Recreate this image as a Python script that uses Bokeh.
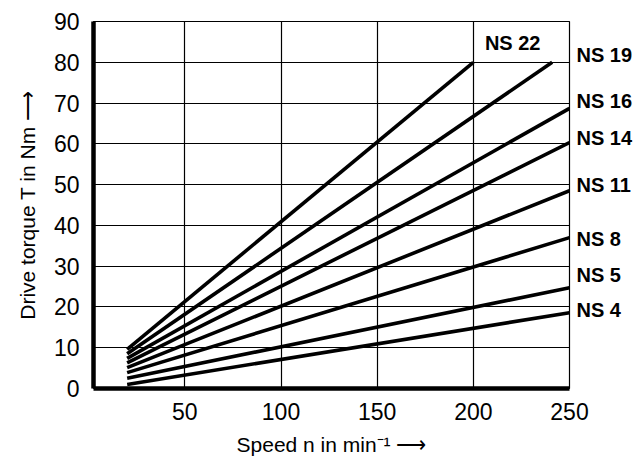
from bokeh.plotting import figure
from bokeh.models import Range1d, FixedTicker, Label, LinearAxis
from bokeh.embed import file_html
from bokeh.resources import INLINE

# Data
series = ["NS 22", "NS 19", "NS 16", "NS 14", "NS 11", "NS 8", "NS 5", "NS 4"]
n_start = [20, 20, 20, 20, 20, 20, 20, 20]
n_end = [200, 241, 250, 250, 250, 250, 250, 250]
T_start = [9.6, 8.5, 7.4, 6.3, 5.1, 3.9, 2.5, 1.0]
T_end = [80, 80, 68.7, 60.3, 48.5, 37.0, 24.7, 18.6]
label_x = [206, 254, 254, 254, 254, 254, 254, 254]
label_y = [84.7, 81.7, 70.4, 61.5, 50.0, 36.7, 27.9, 19.3]
x_ticks = [50, 100, 150, 200, 250]
y_ticks = [0, 10, 20, 30, 40, 50, 60, 70, 80, 90]

FONT = "Liberation Sans"

p = figure(frame_width=476, frame_height=367,
           x_range=Range1d(2.5, 250), y_range=Range1d(0, 90),
           output_backend="svg", toolbar_location=None,
           min_border_left=93, min_border_right=70,
           min_border_top=21, min_border_bottom=60)
p.background_fill_color = "white"
p.border_fill_color = "white"
p.outline_line_color = "black"
p.outline_line_width = 1.2

p.xaxis.ticker = FixedTicker(ticks=x_ticks)
p.yaxis.ticker = FixedTicker(ticks=y_ticks)
p.xgrid.ticker = FixedTicker(ticks=x_ticks[:-1])
p.ygrid.ticker = FixedTicker(ticks=y_ticks[1:])
for g in (p.xgrid, p.ygrid):
    g.grid_line_color = "black"
    g.grid_line_width = 1.2
    g.grid_line_alpha = 1.0

for ax in (p.xaxis, p.yaxis):
    ax.axis_line_width = 4.5
    ax.axis_line_color = "black"
    ax.major_tick_line_color = None
    ax.minor_tick_line_color = None
    ax.major_label_text_font = FONT
    ax.major_label_text_font_size = "23px"
    ax.major_label_text_color = "black"
    ax.axis_label_text_font = FONT
    ax.axis_label_text_font_size = "21px"
    ax.axis_label_text_font_style = "normal"
    ax.axis_label_text_color = "black"

p.xaxis.major_label_standoff = 8
p.yaxis.major_label_standoff = 8
p.xaxis.axis_label = "Speed n in min\u207b\u00b9 \u27f6"
p.yaxis.axis_label = "Drive torque T in Nm \u27f6"
p.xaxis.axis_label_standoff = 10
p.yaxis.axis_label_standoff = 12

# Curve names at the right edge, drawn as an axis so they are not clipped
right_names = series[1:]
right_y = label_y[1:]
rax = LinearAxis(ticker=FixedTicker(ticks=right_y),
                 major_label_overrides={v: s for v, s in zip(right_y, right_names)})
rax.axis_line_color = None
rax.major_tick_line_color = None
rax.minor_tick_line_color = None
rax.major_tick_out = 0
rax.major_tick_in = 0
rax.major_label_standoff = 7
rax.major_label_text_font = FONT
rax.major_label_text_font_size = "20px"
rax.major_label_text_font_style = "bold"
rax.major_label_text_color = "black"
p.add_layout(rax, "right")

for i, name in enumerate(series):
    p.line([n_start[i], n_end[i]], [T_start[i], T_end[i]],
           line_color="black", line_width=3.6)

p.add_layout(Label(x=label_x[0], y=label_y[0], text=series[0],
                   text_font=FONT, text_font_size="20px",
                   text_font_style="bold", text_color="black",
                   text_align="left", text_baseline="middle"))

open("out.html", "w").write(file_html(p, INLINE))
